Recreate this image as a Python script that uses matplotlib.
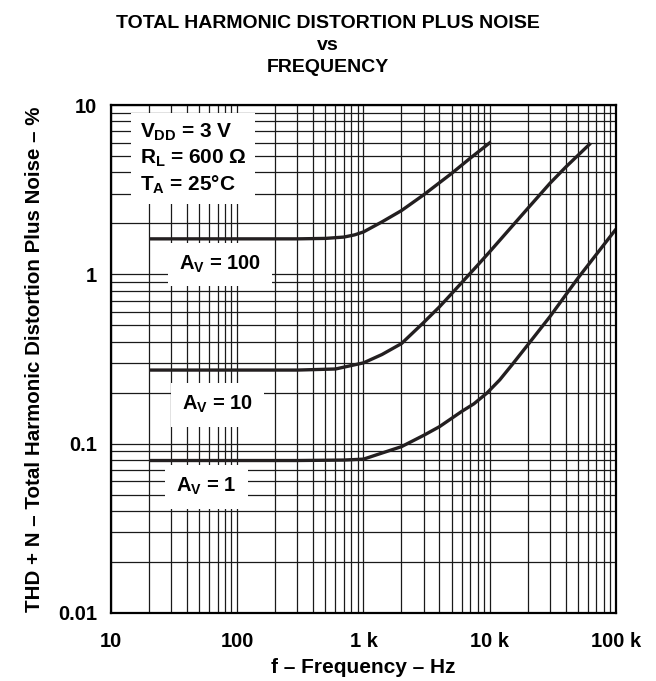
import matplotlib
matplotlib.use("Agg")
import matplotlib.pyplot as plt
from matplotlib.ticker import FixedLocator, NullFormatter, LogLocator

plt.rcParams["font.family"] = ["Liberation Sans", "DejaVu Sans"]
plt.rcParams["font.weight"] = "bold"
plt.rcParams["axes.labelweight"] = "bold"
plt.rcParams["mathtext.fontset"] = "custom"
plt.rcParams["mathtext.rm"] = "Liberation Sans:bold"
plt.rcParams["mathtext.it"] = "Liberation Sans:bold"
plt.rcParams["mathtext.bf"] = "Liberation Sans:bold"

# THD+N (%) vs frequency (Hz) for three closed-loop gains
freq_av100 = [20, 100, 300, 500, 700, 850, 1000, 1400, 2000, 3000, 5000, 7000, 10200]
thd_av100 = [1.62, 1.62, 1.62, 1.63, 1.66, 1.71, 1.78, 2.04, 2.38, 2.95, 3.95, 4.85, 6.05]

freq_av10 = [20, 100, 300, 600, 1000, 1400, 2000, 3000, 4000, 5000, 8000,
             10000, 20000, 30000, 40000, 63000]
thd_av10 = [0.272, 0.272, 0.272, 0.276, 0.30, 0.336, 0.39, 0.52, 0.643, 0.77, 1.13,
            1.36, 2.45, 3.45, 4.3, 5.95]

freq_av1 = [20, 100, 300, 700, 1000, 1400, 2000, 3000, 4000, 6000, 7500, 9500,
            12000, 15000, 20000, 30000, 50000, 100000]
thd_av1 = [0.0795, 0.0795, 0.0795, 0.080, 0.081, 0.088, 0.096, 0.112, 0.126, 0.155, 0.172, 0.199,
           0.238, 0.292, 0.383, 0.563, 0.95, 1.85]

x_ticks = [10, 100, 1000, 10000, 100000]
x_labels = ["10", "100", "1 k", "10 k", "100 k"]
y_ticks = [0.01, 0.1, 1, 10]
y_labels = ["0.01", "0.1", "1", "10"]

fig = plt.figure(figsize=(6.56, 6.81), dpi=100)
ax = fig.add_axes([0.1692, 0.0999, 0.7698, 0.7459])

ax.set_xscale("log")
ax.set_yscale("log")
ax.set_xlim(10, 100000)
ax.set_ylim(0.01, 10)

ax.xaxis.set_major_locator(FixedLocator(x_ticks))
ax.xaxis.set_minor_locator(LogLocator(base=10, subs=range(2, 10), numticks=20))
ax.xaxis.set_minor_formatter(NullFormatter())
ax.set_xticklabels(x_labels)
ax.yaxis.set_major_locator(FixedLocator(y_ticks))
ax.yaxis.set_minor_locator(LogLocator(base=10, subs=range(2, 10), numticks=20))
ax.yaxis.set_minor_formatter(NullFormatter())
ax.set_yticklabels(y_labels)

ax.grid(which="both", color="#1a1a1a", lw=0.9, zorder=1)
ax.set_axisbelow(True)
ax.tick_params(which="both", length=0, labelsize=14.5)
ax.tick_params(axis="x", pad=14)
ax.tick_params(axis="y", pad=10)
for s in ax.spines.values():
    s.set_linewidth(1.6)
    s.set_zorder(5)

line_kw = dict(color="#231f20", lw=2.4, solid_capstyle="butt", zorder=4)
ax.plot(freq_av100, thd_av100, **line_kw)
ax.plot(freq_av10, thd_av10, **line_kw)
ax.plot(freq_av1, thd_av1, **line_kw)

box = dict(facecolor="white", edgecolor="none", boxstyle="square,pad=0.55")
ax.text(73, 1.14, r"$A_V$ = 100", fontsize=14.5, ha="center", va="center",
        bbox=box, zorder=3)
ax.text(70, 0.1695, r"$A_V$ = 10", fontsize=14.5, ha="center", va="center",
        bbox=box, zorder=3)
ax.text(57, 0.0556, r"$A_V$ = 1", fontsize=14.5, ha="center", va="center",
        bbox=box, zorder=3)

cond = "$V_{DD}$ = 3 V\n$R_L$ = 600 Ω\n$T_A$ = 25°C"
ax.text(0.057, 0.967, cond, transform=ax.transAxes, fontsize=15, ha="left", va="top",
        linespacing=1.28, zorder=3,
        bbox=dict(facecolor="white", edgecolor="none", boxstyle="square,pad=0.4"))

ax.set_xlabel("f – Frequency – Hz", fontsize=15, labelpad=5)
ax.set_ylabel("THD + N – Total Harmonic Distortion Plus Noise – %", fontsize=14.8,
              labelpad=10)

fig.text(0.5, 0.978, "TOTAL HARMONIC DISTORTION PLUS NOISE\nvs\nFREQUENCY",
         ha="center", va="top", fontsize=14, linespacing=1.4)

fig.savefig("out.png", dpi=100)
